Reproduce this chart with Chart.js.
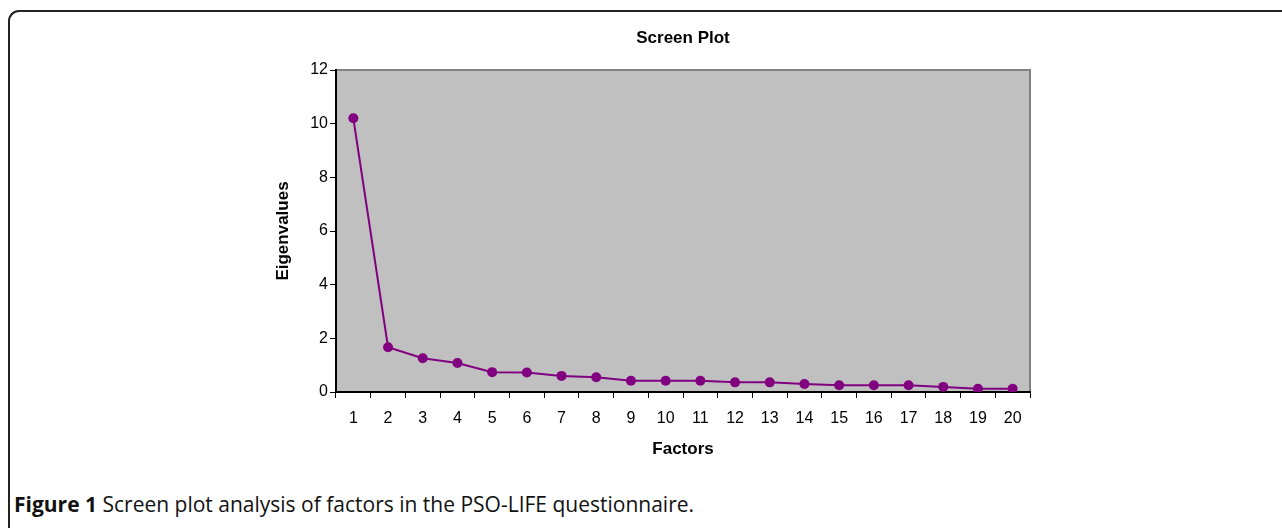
<!DOCTYPE html>
<html>
<head>
<meta charset="utf-8">
<script src="https://cdn.jsdelivr.net/npm/chart.js@4"></script>
<style>
    body { margin: 0; background: #fff; width: 1282px; height: 528px; overflow: hidden; position: relative; }
    #frame {
        position: absolute; left: 8px; top: 10px; width: 1300px; height: 560px;
        border-left: 2px solid #222; border-top: 2px solid #222; border-top-left-radius: 11px;
    }
    #chartBox { position: absolute; left: 260px; top: 0; width: 846px; height: 470px; }
    #caption {
        position: absolute; left: 14px; top: 490px; font-family: "Open Sans", sans-serif;
        font-size: 21px; color: #111; white-space: nowrap;
    }
</style>
</head>
<body>
<div id="frame"></div>
<div id="chartBox"><canvas id="scree" width="846" height="470"></canvas></div>
<div id="caption"><b>Figure 1</b> Screen plot analysis of factors in the PSO-LIFE questionnaire.</div>
<script>
// data
const factors = ['1', '2', '3', '4', '5', '6', '7', '8', '9', '10',
    '11', '12', '13', '14', '15', '16', '17', '18', '19', '20'];
const eigenvalues = [10.2, 1.67, 1.26, 1.08, 0.74, 0.73, 0.6, 0.55, 0.42, 0.42,
    0.42, 0.36, 0.36, 0.3, 0.25, 0.25, 0.25, 0.19, 0.12, 0.12];
const yTicks = [0, 2, 4, 6, 8, 10, 12];

// grey plot area with a darker edge on top and right
const plotBackground = {
    id: 'plotBackground',
    beforeDraw(chart) {
        const { ctx, chartArea: a } = chart;
        ctx.save();
        ctx.fillStyle = '#c0c0c0';
        ctx.fillRect(a.left, a.top, a.right - a.left, a.bottom - a.top);
        ctx.strokeStyle = '#808080';
        ctx.lineWidth = 2;
        ctx.beginPath();
        ctx.moveTo(a.left, a.top);
        ctx.lineTo(a.right, a.top);
        ctx.lineTo(a.right, a.bottom);
        ctx.stroke();
        ctx.restore();
    }
};

const tickFont = { family: 'Liberation Sans, Arial, sans-serif', size: 16 };
const titleFont = { family: 'Liberation Sans, Arial, sans-serif', size: 17, weight: 'bold' };

new Chart(document.getElementById('scree').getContext('2d'), {
    type: 'line',
    data: {
        labels: factors,
        datasets: [{
            data: eigenvalues,
            borderColor: '#800080',
            backgroundColor: '#800080',
            borderWidth: 2,
            pointRadius: 5,
            pointBorderWidth: 0,
            tension: 0
        }]
    },
    options: {
        responsive: false,
        animation: false,
        layout: { padding: 0 },
        plugins: {
            legend: { display: false },
            tooltip: { enabled: false },
            title: {
                display: true,
                text: 'Screen Plot',
                color: '#000',
                font: { family: 'Liberation Sans, Arial, sans-serif', size: 17, weight: 'bold' },
                padding: { top: 28, bottom: 21.6 }
            }
        },
        scales: {
            x: {
                offset: true,
                afterFit: (scale) => { scale.height = 78; },
                grid: {
                    offset: true,
                    drawOnChartArea: false,
                    drawTicks: true,
                    tickLength: 6,
                    color: '#000',
                    lineWidth: 1
                },
                border: { color: '#000', width: 2 },
                ticks: { color: '#000', font: tickFont, padding: 11, maxRotation: 0, autoSkip: false },
                title: {
                    display: true, text: 'Factors', color: '#000', font: titleFont,
                    padding: { top: 0, bottom: 10 }
                }
            },
            y: {
                min: 0,
                max: 12,
                afterFit: (scale) => { scale.width = 76; },
                afterBuildTicks: (scale) => { scale.ticks = yTicks.map(v => ({ value: v })); },
                grid: {
                    drawOnChartArea: false,
                    drawTicks: true,
                    tickLength: 6,
                    color: '#000'
                },
                border: { color: '#000', width: 2 },
                ticks: { color: '#000', font: tickFont, padding: 2 },
                title: {
                    display: true, text: 'Eigenvalues', color: '#000', font: titleFont,
                    padding: { top: 13, bottom: 0 }
                }
            },
            // empty right-hand axis so the title centres over the plot
            yRight: {
                position: 'right',
                min: 0,
                max: 12,
                afterFit: (scale) => { scale.width = 76; },
                grid: { display: false },
                border: { display: false },
                ticks: { display: false }
            }
        }
    },
    plugins: [plotBackground]
});
</script>
</body>
</html>
